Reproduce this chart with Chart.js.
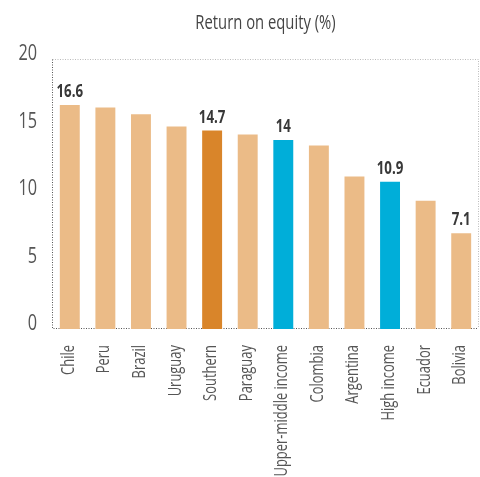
<!DOCTYPE html>
<html>
<head>
<meta charset="utf-8">
<script src="https://cdn.jsdelivr.net/npm/chart.js@4/dist/chart.umd.min.js"></script>
<style>
  html, body { margin: 0; padding: 0; background: #fff; }
  #wrap { width: 480px; height: 477px; }
</style>
</head>
<body>
<div id="wrap"><canvas id="roe"></canvas></div>
<script>
// Return on equity (%) by country / group
const countries = ['Chile', 'Peru', 'Brazil', 'Uruguay', 'Southern', 'Paraguay',
  'Upper-middle income', 'Colombia', 'Argentina', 'High income', 'Ecuador', 'Bolivia'];
const roeValues = [16.6, 16.4, 15.9, 15.0, 14.7, 14.4, 14.0, 13.6, 11.3, 10.9, 9.5, 7.1];
const valueLabels = ['16.6', '', '', '', '14.7', '', '14', '', '', '10.9', '', '7.1'];
const barKind = ['c', 'c', 'c', 'c', 's', 'c', 'g', 'c', 'c', 'g', 'c', 'c'];
const yTicks = [0, 5, 10, 15, 20];

const TITLE = 'Return on equity (%)';
const FONT = '"Open Sans", "DejaVu Sans", sans-serif';
const CONDENSE = 0.74; // the original uses a condensed face
const kindColor = { c: '#EBBB87', s: '#D9852A', g: '#00AED9' };

// write text squeezed along its own direction
function condensedText(ctx, text, x, y, opts) {
  ctx.save();
  ctx.translate(x, y);
  if (opts.rotate) ctx.rotate(opts.rotate);
  ctx.scale(CONDENSE, 1);
  ctx.font = opts.font;
  ctx.fillStyle = opts.color;
  ctx.textAlign = opts.align || 'center';
  ctx.textBaseline = opts.baseline || 'alphabetic';
  ctx.fillText(text, 0, 0);
  ctx.restore();
}

// dotted frame, axis labels and title
const framePlugin = {
  id: 'frame',
  beforeDatasetsDraw(chart) {
    const { ctx, chartArea: a } = chart;
    ctx.save();
    ctx.setLineDash([1, 1.5]);
    ctx.lineWidth = 1;
    ctx.strokeStyle = '#bbb';
    ctx.beginPath();
    ctx.moveTo(a.left + 0.5, a.top + 0.5);
    ctx.lineTo(a.right - 0.5, a.top + 0.5);
    ctx.lineTo(a.right - 0.5, a.bottom - 0.5);
    ctx.stroke();
    ctx.strokeStyle = '#555';
    ctx.beginPath();
    ctx.moveTo(a.left + 0.5, a.top + 0.5);
    ctx.lineTo(a.left + 0.5, a.bottom - 0.5);
    ctx.lineTo(a.right - 0.5, a.bottom - 0.5);
    ctx.stroke();
    ctx.restore();
  },
  afterDraw(chart) {
    const { ctx, chartArea: a, scales } = chart;
    condensedText(ctx, TITLE, (a.left + a.right) / 2, 29,
      { font: '20px ' + FONT, color: '#444' });
    yTicks.forEach(v => {
      condensedText(ctx, String(v), a.left - 15, scales.y.getPixelForValue(v) + 1,
        { font: '22px ' + FONT, color: '#555', align: 'right' });
    });
    countries.forEach((c, i) => {
      condensedText(ctx, c, scales.x.getPixelForValue(i) - 1, a.bottom + 16,
        { font: '17.5px ' + FONT, color: '#555', align: 'right', baseline: 'middle', rotate: -Math.PI / 2 });
    });
  }
};

// value labels above selected bars
const valuePlugin = {
  id: 'values',
  afterDatasetsDraw(chart) {
    const meta = chart.getDatasetMeta(0);
    meta.data.forEach((bar, i) => {
      if (valueLabels[i]) {
        condensedText(chart.ctx, valueLabels[i], bar.x, bar.y - 8,
          { font: 'bold 18px ' + FONT, color: '#383838' });
      }
    });
  }
};

new Chart(document.getElementById('roe'), {
  type: 'bar',
  data: {
    labels: countries,
    datasets: [{
      data: roeValues,
      backgroundColor: barKind.map(k => kindColor[k]),
      borderWidth: 0,
      barPercentage: 0.56,
      categoryPercentage: 1
    }]
  },
  options: {
    responsive: true,
    maintainAspectRatio: false,
    animation: false,
    layout: { padding: { top: 59, right: 1, left: 0, bottom: 0 } },
    plugins: { legend: { display: false }, tooltip: { enabled: false } },
    scales: {
      x: {
        grid: { display: false, drawTicks: false },
        border: { display: false },
        ticks: { display: false },
        afterFit(scale) { scale.height = 148; }
      },
      y: {
        min: 0,
        max: 20,
        grid: { display: false, drawTicks: false },
        border: { display: false },
        ticks: { display: false },
        afterFit(scale) { scale.width = 52; }
      }
    }
  },
  plugins: [framePlugin, valuePlugin]
});
</script>
</body>
</html>
